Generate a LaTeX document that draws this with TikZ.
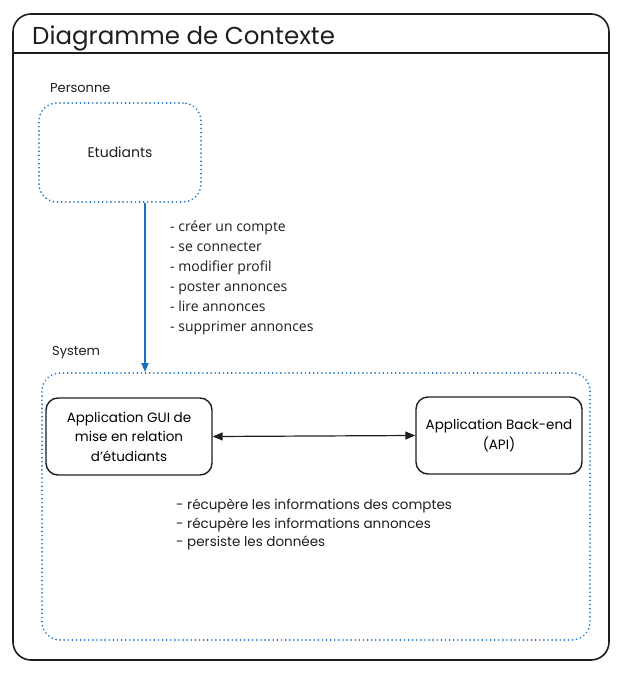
\documentclass[tikz,border=0pt]{standalone}
\usepackage{fontspec}
\setmainfont{Poppins}
\newfontfamily\listfont{Open Sans}
\usetikzlibrary{arrows.meta}
\definecolor{exblue}{HTML}{1971C2}
\definecolor{exink}{HTML}{1E1E1E}
\tikzset{
  frame/.style={draw=exink, line width=1.6pt, rounded corners=18},
  dotbox/.style={draw=exblue, line width=1.8pt, dash pattern=on 0.1pt off 4pt, line cap=round, rounded corners=18},
  appbox/.style={draw=exink, line width=1.4pt, rounded corners=12, align=center, font=\fontsize{13.5}{19.5}\selectfont, inner sep=0pt},
  lbl/.style={anchor=base west, inner sep=0pt, text=exink, font=\fontsize{13}{14}\selectfont},
  itemlist/.style={anchor=north west, align=left, inner sep=0pt, text=exink},
}
\begin{document}
\begin{tikzpicture}[x=1pt,y=-1pt]
\useasboundingbox (0,0) rectangle (625,676);
% outer frame
\draw[frame] (13,14) rectangle (609,660);
\draw[draw=exink, line width=1.6pt] (13,53) -- (608,53);
\node[anchor=base west, inner sep=0pt, font=\fontsize{24.5}{28}\selectfont, text=exink] (title) at (32,45) {Diagramme de Contexte};
% person
\node[lbl] (perslbl) at (50,93) {Personne};
\node[dotbox, minimum width=162, minimum height=99, text=exink, font=\fontsize{14}{16}\selectfont] (etu) at (120,152.5) {Etudiants};
% system
\node[lbl] (syslbl) at (52,355) {System};
\node[dotbox, minimum width=548, minimum height=267] (sys) at (316,506.5) {};
\node[appbox, minimum width=166, minimum height=77] (gui) at (129,436.5) {Application GUI de\\mise en relation\\d'étudiants};
\node[appbox, minimum width=166, minimum height=77] (api) at (499,435.5) {Application Back-end\\(API)};
% arrows
\draw[draw=exblue, line width=1.8pt, -{Triangle[length=9pt,width=7pt]}] (etu.south -| 145,0) -- (sys.north -| 145,0);
\draw[draw=exink, line width=1.2pt, {Triangle[length=10pt,width=8pt]}-{Triangle[length=10pt,width=8pt]}] (gui.east) -- (api.west);
% lists
\node[itemlist, font=\listfont\fontsize{14}{20}\selectfont] (acts) at (170,221) {- créer un compte\\- se connecter\\- modifier profil\\- poster annonces\\- lire annonces\\- supprimer annonces};
\node[itemlist, font=\fontsize{13.5}{18.5}\selectfont] (infos) at (176,499) {- récupère les informations des comptes\\- récupère les informations annonces\\- persiste les données};
\end{tikzpicture}
\end{document}
